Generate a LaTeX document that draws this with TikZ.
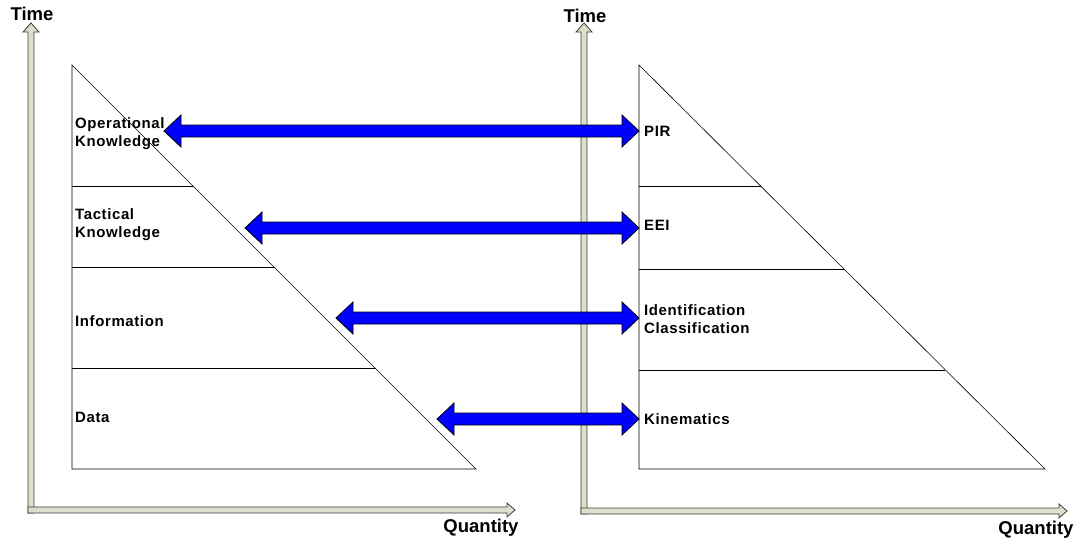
\documentclass[tikz,border=0pt]{standalone}
\usepackage{fontspec}
\setmainfont{Liberation Sans}
\usetikzlibrary{positioning,calc}

\definecolor{axisfill}{RGB}{221,223,204}
\definecolor{axisline}{RGB}{60,60,60}

\tikzset{
    axisarrow/.style={draw=axisline, fill=axisfill, line width=0.8pt},
    bluearrow/.style={draw=black, fill=blue, line width=0.8pt, line join=miter},
    level/.style={draw=black, line width=0.6pt},
    lbl/.style={font=\bfseries\fontsize{15}{18}\selectfont\addfontfeature{LetterSpace=4}, align=left, anchor=west, inner sep=0pt},
    axislbl/.style={font=\bfseries\fontsize{18.5}{20}\selectfont, inner sep=0pt}
}

\begin{document}
\begin{tikzpicture}[x=1pt,y=-1pt]
    \useasboundingbox (0,0) rectangle (1076,541);

    %Axes
    \draw[axisarrow] (28,513) -- (28,32) -- (23,32) -- (31,23) -- (39,32) -- (34,32) -- (34,513) -- cycle;
    \draw[axisarrow] (28,507) -- (507,507) -- (507,503) -- (515,510) -- (507,517) -- (507,513) -- (28,513) -- cycle;
    \draw[axisarrow] (581,514) -- (581,32) -- (576,32) -- (584,23) -- (592,32) -- (587,32) -- (587,514) -- cycle;
    \draw[axisarrow] (581,508) -- (1059,508) -- (1059,504) -- (1067,511) -- (1059,518) -- (1059,514) -- (581,514) -- cycle;

    \node[axislbl] at (32,14)   (tleft)  {Time};
    \node[axislbl] at (585,16)  (tright) {Time};
    \node[axislbl] at (481,528) (qleft)  {Quantity};
    \node[axislbl] at (1036,530)(qright) {Quantity};

    %Triangles
    \draw[level] (72,65) -- (72,469) -- (476,469) -- cycle;
    \draw[level] (72,186) -- (193,186);
    \draw[level] (72,267) -- (274,267);
    \draw[level] (72,368) -- (375,368);

    \draw[level] (639,65) -- (639,469) -- (1045,469) -- cycle;
    \draw[level] (639,186) -- (761,186);
    \draw[level] (639,269) -- (844,269);
    \draw[level] (639,370) -- (945,370);

    %Nodes
    \node[lbl] at (75,134)  (opk)  {Operational\\Knowledge};
    \node[lbl] at (75,225)  (tak)  {Tactical\\Knowledge};
    \node[lbl] at (75,321)  (info) {Information};
    \node[lbl] at (75,417)  (data) {Data};

    \node[lbl] at (644,131) (pir)  {PIR};
    \node[lbl] at (644,225) (eei)  {EEI};
    \node[lbl] at (644,319) (idc)  {Identification\\Classification};
    \node[lbl] at (644,419) (kin)  {Kinematics};

    \coordinate (a1) at (164,131);  \coordinate (b1) at (639,131);
    \coordinate (a2) at (245,228);  \coordinate (b2) at (639,228);
    \coordinate (a3) at (336,318);  \coordinate (b3) at (639,318);
    \coordinate (a4) at (437,419);  \coordinate (b4) at (639,419);

    %Arrows
    \foreach \a/\b in {a1/b1, a2/b2, a3/b3, a4/b4}
        \draw[bluearrow] (\a) -- ++(17,-16) -- ++(0,10) -- ($(\b)+(-17,-6)$) -- ++(0,-10)
            -- (\b) -- ++(-17,16) -- ++(0,-10) -- ($(\a)+(17,6)$) -- ++(0,10) -- cycle;
\end{tikzpicture}
\end{document}
